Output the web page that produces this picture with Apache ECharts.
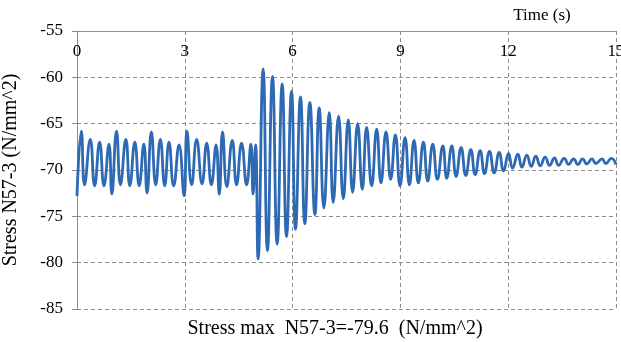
<!DOCTYPE html>
<html>
<head>
<meta charset="utf-8">
<script src="https://cdn.jsdelivr.net/npm/echarts@6/dist/echarts.min.js"></script>
<style>
  html, body { margin: 0; padding: 0; background: #fff; }
  #chart { width: 621px; height: 342px; }
</style>
</head>
<body>
<div id="chart"></div>
<script>
// peaks and troughs: time (s) and stress (N/mm^2)
const times = [
  0, 0.12, 0.21, 0.37, 0.49, 0.63, 0.75, 0.89, 0.97,
  1.10, 1.21, 1.36, 1.47, 1.61, 1.73, 1.86, 1.95,
  2.07, 2.19, 2.32, 2.44, 2.56, 2.69, 2.84, 2.98,
  3.06, 3.19, 3.33, 3.48, 3.61, 3.74, 3.87, 3.96,
  4.05, 4.17, 4.32, 4.44, 4.58, 4.72, 4.84, 4.90, 4.97,
  5.04, 5.18, 5.30, 5.44, 5.57, 5.71, 5.83, 5.97,
  6.08, 6.22, 6.34, 6.48, 6.62, 6.74, 6.87, 7.02, 7.13, 7.28, 7.41, 7.55, 7.67, 7.81, 7.94,
  8.06, 8.20, 8.34, 8.46, 8.60, 8.73, 8.86, 8.99,
  9.13, 9.25, 9.38, 9.50, 9.64, 9.76, 9.90, 10.03, 10.18, 10.29, 10.43, 10.55, 10.69, 10.82, 10.96,
  11.08, 11.22, 11.34, 11.48, 11.61, 11.75, 11.87, 12.01,
  12.12, 12.27, 12.38, 12.52, 12.64, 12.77, 12.89, 13.03, 13.15, 13.29, 13.40, 13.56, 13.68, 13.82, 13.94,
  14.07, 14.19, 14.33, 14.44, 14.61, 14.72, 14.87, 15.0
];
const stress = [
  -72.8, -65.8, -71.6, -66.7, -71.7, -67.0, -71.7, -67.2, -72.6,
  -65.8, -71.6, -66.7, -71.7, -67.0, -71.7, -67.2, -72.5,
  -65.9, -71.6, -66.7, -71.7, -67.0, -71.7, -67.3, -72.8,
  -65.8, -71.6, -66.7, -71.5, -67.1, -71.6, -67.3, -72.6,
  -65.9, -71.8, -66.8, -71.6, -67.1, -71.6, -67.2, -72.6, -67.3,
  -79.6, -59.1, -78.7, -59.9, -78.0, -60.7, -77.2, -61.5,
  -76.4, -62.1, -75.8, -62.7, -74.8, -63.3, -74.1, -63.8, -73.5, -64.2, -73.1, -64.6, -72.4, -65.0, -72.1,
  -65.4, -71.7, -65.6, -71.4, -65.9, -71.0, -66.2, -71.7,
  -66.5, -71.6, -66.8, -71.4, -67.0, -71.2, -67.2, -71.0, -67.4, -70.9, -67.4, -70.7, -67.6, -70.6, -67.8,
  -70.5, -67.9, -70.4, -68.0, -70.3, -68.1, -70.1, -68.2,
  -69.8, -68.3, -69.7, -68.4, -69.6, -68.5, -69.55, -68.6, -69.5, -68.7, -69.5, -68.75, -69.4, -68.8, -69.4,
  -68.8, -69.35, -68.8, -69.3, -68.8, -69.3, -68.75, -69.4
];
const xTicks = {min: 0, max: 15, step: 3};
const yTicks = {min: -85, max: -55, step: 5};

const serif = "'Liberation Serif', 'Times New Roman', serif";
const gridGray = '#8c8c8c';

const chart = echarts.init(document.getElementById('chart'));
chart.setOption({
  animation: false,
  grid: {left: 77, right: 5, top: 31, bottom: 33, containLabel: false, outerBoundsMode: 'none'},
  graphic: [
    {
      type: 'text', x: 542, y: 16,
      style: {text: 'Time (s)', font: '17px ' + serif, fill: '#000', textAlign: 'center', textVerticalAlign: 'middle'}
    },
    {
      type: 'text', x: 335, y: 329,
      style: {text: 'Stress max  N57-3=-79.6  (N/mm^2)', font: '20px ' + serif, fill: '#000', textAlign: 'center', textVerticalAlign: 'middle'}
    }
  ],
  xAxis: {
    type: 'value',
    position: 'top',
    min: xTicks.min, max: xTicks.max, interval: xTicks.step,
    axisLine: {show: true, lineStyle: {color: gridGray, width: 1}},
    axisTick: {show: false},
    axisLabel: {inside: true, margin: 12, color: '#000', fontFamily: serif, fontSize: 17},
    splitLine: {show: true, lineStyle: {color: gridGray, type: [4, 3], width: 1}}
  },
  yAxis: {
    type: 'value',
    min: yTicks.min, max: yTicks.max, interval: yTicks.step,
    name: 'Stress N57-3 (N/mm^2)',
    nameLocation: 'middle',
    nameGap: 56,
    nameTextStyle: {color: '#000', fontFamily: serif, fontSize: 20},
    axisLine: {show: true, lineStyle: {color: gridGray, width: 1}},
    axisTick: {show: true, length: 5, lineStyle: {color: gridGray}},
    axisLabel: {margin: 14, color: '#000', fontFamily: serif, fontSize: 17},
    splitLine: {show: true, lineStyle: {color: gridGray, type: [4, 3], width: 1}}
  },
  series: [{
    type: 'line',
    data: times.map((t, i) => [t, stress[i]]),
    smooth: 0.5,
    showSymbol: false,
    lineStyle: {color: '#2e69b3', width: 2.8},
    itemStyle: {color: '#2e69b3'}
  }]
});
</script>
</body>
</html>
